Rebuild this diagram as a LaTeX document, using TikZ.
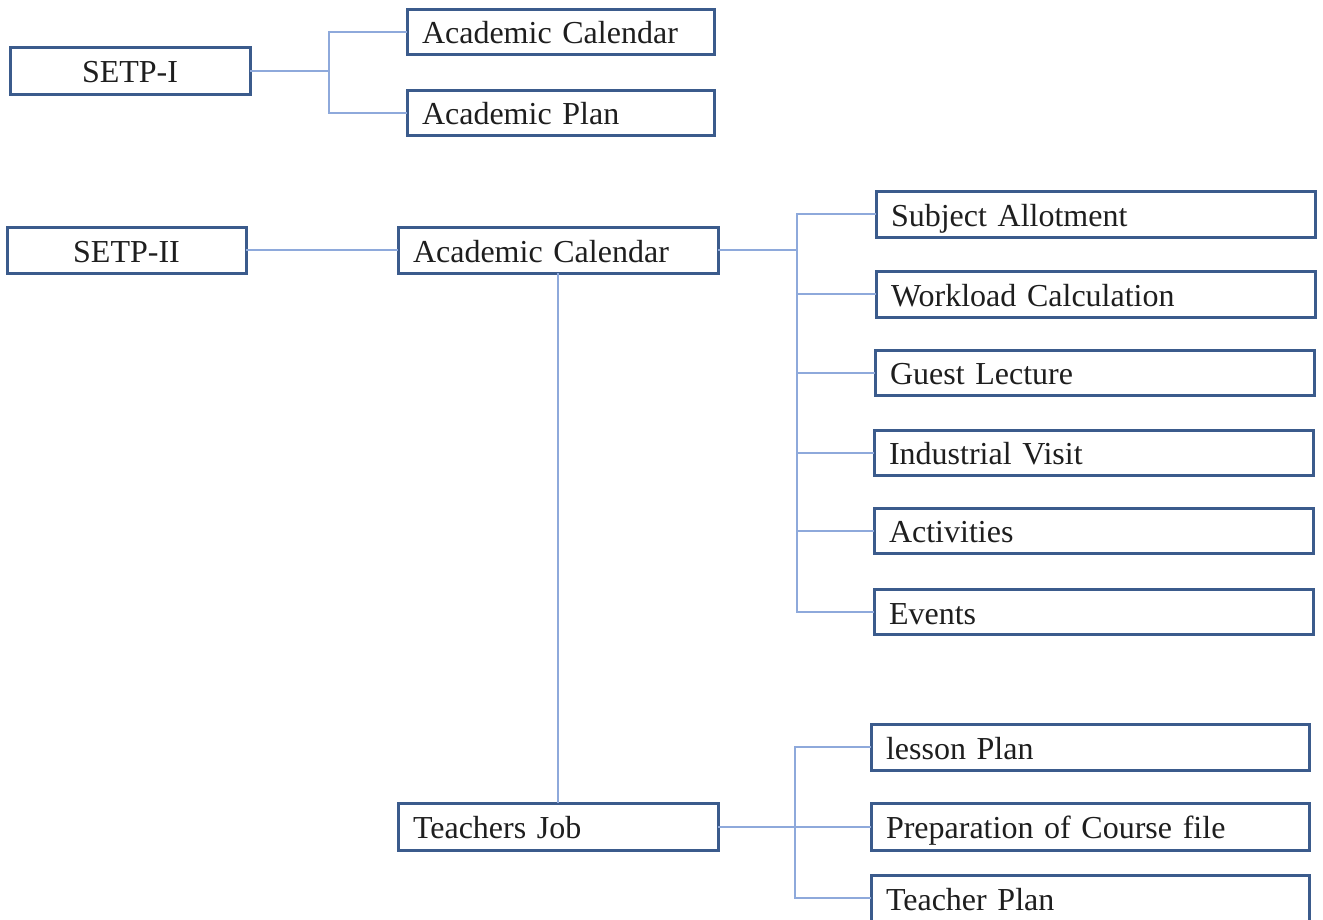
\documentclass[tikz,border=0pt]{standalone}
\usepackage{fontspec}
\setmainfont{Liberation Serif}
\definecolor{boxline}{HTML}{3B5B8C}
\definecolor{linkline}{HTML}{8EA9DB}
\definecolor{ink}{HTML}{1E1E1E}
\begin{document}
\begin{tikzpicture}[x=1pt,y=-1pt,
  box/.style={draw=boxline, line width=3pt, fill=white, outer sep=0pt,
    inner xsep=15pt, inner ysep=0pt, text height=24pt, text depth=0pt,
    font={\fontsize{32}{38}\selectfont\spaceskip=5pt plus 1pt\relax}, text=ink},
  cbox/.style={box, align=center},
  lbox/.style={box, align=left},
  link/.style={draw=linkline, line width=2pt}]
\useasboundingbox (0,0) rectangle (1323,919);

% first section
\node[cbox, minimum width=240pt, minimum height=47pt] (s1) at (130,70.5) {SETP-I};
\node[lbox, text width=277pt, minimum height=45pt, anchor=west] (a1) at (407,31.5) {Academic Calendar};
\node[lbox, text width=277pt, minimum height=45pt, anchor=west] (a2) at (407,112.5) {Academic Plan};

% second section
\node[cbox, minimum width=239pt, minimum height=46pt] (s2) at (126.5,250) {SETP-II};
\node[lbox, text width=290pt, minimum height=46pt, anchor=west] (c2) at (398,250) {Academic Calendar};
\node[lbox, text width=409pt, minimum height=46pt, anchor=west] (r1) at (876,214) {Subject Allotment};
\node[lbox, text width=409pt, minimum height=46pt, anchor=west] (r2) at (876,294) {Workload Calculation};
\node[lbox, text width=409pt, minimum height=45pt, anchor=west] (r3) at (875,372.5) {Guest Lecture};
\node[lbox, text width=409pt, minimum height=45pt, anchor=west] (r4) at (874,452.5) {Industrial Visit};
\node[lbox, text width=409pt, minimum height=45pt, anchor=west] (r5) at (874,530.5) {Activities};
\node[lbox, text width=409pt, minimum height=45pt, anchor=west] (r6) at (874,612) {Events};

\node[lbox, text width=290pt, minimum height=47pt, anchor=west] (tj) at (398,826.5) {Teachers Job};
\node[lbox, text width=408pt, minimum height=46pt, anchor=west] (t1) at (871,747) {lesson Plan};
\node[lbox, text width=408pt, minimum height=47pt, anchor=west] (t2) at (871,826.5) {Preparation of Course file};
\node[lbox, text width=408pt, minimum height=46pt, anchor=west] (t3) at (871,898) {Teacher Plan};

% connectors
\path[link] (s1.east) -- ++(79,0) |- (a1.west);
\path[link] (s1.east) -- ++(79,0) |- (a2.west);

\path[link] (s2.east) -- (c2.west);
\foreach \n in {r1,r2,r3,r4,r5,r6}
  \path[link] (c2.east) -- ++(79,0) |- (\n.west);
\path[link] (c2.south) -- (tj.north);
\foreach \n in {t1,t2,t3}
  \path[link] (tj.east) -- ++(77,0) |- (\n.west);
\end{tikzpicture}
\end{document}
